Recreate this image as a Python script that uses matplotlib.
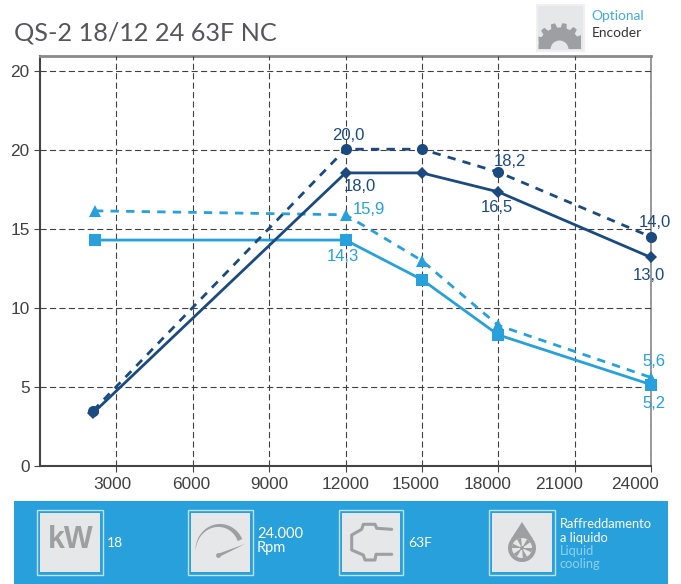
import numpy as np
import matplotlib
matplotlib.use("Agg")
import matplotlib.pyplot as plt
from matplotlib.patches import Rectangle, Circle, Wedge, Polygon
from matplotlib.transforms import ScaledTranslation

W, H = 681, 584
DARK = "#1b4a80"
LIGHT = "#27a0db"
ICON = "#9d9fa2"
BOX = "#e6e7e8"

# Data
rpm_dark = [2085, 12000, 15000, 18000, 24000]
rpm_light = [2160, 12000, 15000, 18000, 24000]
kw_peak = [3.5, 20.05, 20.05, 18.6, 14.5]
kw_cont = [3.35, 18.55, 18.55, 17.35, 13.2]
nm_peak = [16.15, 15.9, 13.0, 8.9, 5.6]
nm_cont = [14.3, 14.3, 11.8, 8.3, 5.15]

x_ticks = [3000, 6000, 9000, 12000, 15000, 18000, 21000, 24000]
y_ticks = [0, 5, 10, 15, 20, 25]
y_tick_labels = ["0", "5", "10", "15", "20", "20"]

# the x labels drift left of their ticks in the original
x_label_shift = [-4, -2, 0, 0, -6, -11, -16, -16]

plt.rcParams["font.family"] = ["Liberation Sans", "DejaVu Sans"]

fig = plt.figure(figsize=(W / 100, H / 100), dpi=100)

# Chart axes, placed by pixels
ax = fig.add_axes([40 / W, 1 - 466 / H, (651 - 40) / W, (466 - 56) / H])
ax.set_xlim(0, 24000)
ax.set_ylim(0, 410 / 15.8)
ax.set_xticks(x_ticks)
ax.set_yticks(y_ticks)
ax.set_yticklabels(y_tick_labels)
ax.tick_params(axis="both", labelsize=12.4, labelcolor="#404040", color="#444444", length=4.5, width=0.8, pad=3)
ax.tick_params(axis="x", pad=3.5)
ax.grid(True, color="#404040", linestyle=(0, (5.5, 3)), linewidth=0.8)
ax.set_axisbelow(True)
for side, col, lw in [("top", "#8a8a8c", 2), ("right", "#8a8a8c", 1.2),
                      ("left", "#444444", 1.5), ("bottom", "#444444", 1.5)]:
    ax.spines[side].set_color(col)
    ax.spines[side].set_linewidth(lw)
    ax.spines[side].set_zorder(0.4)

for tick_label, shift in zip(ax.get_xticklabels(), x_label_shift):
    tick_label.set_transform(tick_label.get_transform() + ScaledTranslation(shift / 100, 0, fig.dpi_scale_trans))

dash = (0, (3.0, 2.6))
ax.plot(rpm_light, nm_peak, color=LIGHT, lw=2, ls=dash, marker="^", ms=8.5, mew=0, clip_on=False, zorder=3)
ax.plot(rpm_light, nm_cont, color=LIGHT, lw=2, marker="s", ms=8, mew=0, clip_on=False, zorder=3)
ax.plot(rpm_dark, kw_peak, color=DARK, lw=2, ls=dash, marker="o", ms=8, mew=0, clip_on=False, zorder=4)
ax.plot(rpm_dark, kw_cont, color=DARK, lw=2, marker="D", ms=6.5, mew=0, clip_on=False, zorder=4)

# Value labels, offset from their points in pixels (y up)
def label(x, y, txt, color, dx, dy):
    ax.annotate(txt, (x, y), xytext=(dx * 0.72, dy * 0.72), textcoords="offset points",
                color=color, fontsize=12, ha="center", va="center", zorder=6, annotation_clip=False)

label(rpm_dark[1], kw_peak[1], "20,0", DARK, 3, 14)
label(rpm_dark[1], kw_cont[1], "18,0", DARK, 14, -14)
label(rpm_dark[3], kw_peak[3], "18,2", DARK, 12, 11)
label(rpm_dark[3], kw_cont[3], "16,5", DARK, -1, -16)
label(rpm_dark[4], kw_peak[4], "14,0", DARK, 4, 14)
label(rpm_dark[4], kw_cont[4], "13,0", DARK, -2, -18)
label(rpm_light[1], nm_peak[1], "15,9", LIGHT, 23, 5)
label(rpm_light[1], nm_cont[1], "14,3", LIGHT, -3, -16)
label(rpm_light[4], nm_peak[4], "5,6", LIGHT, 3, 16)
label(rpm_light[4], nm_cont[4], "5,2", LIGHT, 3, -19)

# Overlay in pixel coordinates for header, footer and icons
ui = fig.add_axes([0, 0, 1, 1], zorder=5)
ui.set_xlim(0, W)
ui.set_ylim(H, 0)
ui.axis("off")
ui.patch.set_alpha(0)

UI_FONT = ["Lato", "DejaVu Sans"]
ui.text(14, 33.5, "QS-2 18/12 24 63F NC", fontsize=18.2, color="#55555a", family=UI_FONT, va="center")
ui.text(591.5, 16, "Optional", fontsize=9.9, color="#45a9de", family=UI_FONT, va="center")
ui.text(591.5, 33, "Encoder", fontsize=9.9, color="#333333", family=UI_FONT, va="center")

# Encoder gear icon
ui.add_patch(Rectangle((536.5, 4.5), 47, 46, fc=BOX, ec="#f0f0f1", lw=1.5))
angles = np.linspace(np.pi, 2 * np.pi, 57)
radius = np.where(((angles - np.pi) / (np.pi / 7) + 0.25) % 1 < 0.5, 26, 21.5)
gear_x = np.clip(559.5 + radius * np.cos(angles), 538.5, 581)
gear_y = 49 + radius * np.sin(angles)
ui.add_patch(Polygon(np.column_stack([gear_x, gear_y]), fc=ICON, ec="none"))
ui.add_patch(Rectangle((539, 37), 42, 12, fc=ICON, ec="none"))
ui.add_patch(Wedge((559.5, 49.5), 9, 180, 360, fc=BOX, ec="none"))

# Footer band
ui.add_patch(Rectangle((14, 501), 654, 83, fc=LIGHT, ec="none"))

def icon_box(x0, x1):
    ui.add_patch(Rectangle((x0, 510), x1 - x0, 65, fc="none", ec="#bfe0f3", lw=1))
    ui.add_patch(Rectangle((x0 + 3, 513), x1 - x0 - 6, 59, fc=BOX, ec="none"))

icon_box(37, 103)
icon_box(188, 253)
icon_box(339, 403)
icon_box(489, 555)

# kW
ui.text(71, 540.5, "kW", fontsize=22, fontweight="bold", color=ICON, family="Liberation Sans", ha="center", va="center")

# Gauge: arc that gets thicker to the right
t = np.radians(np.linspace(182, 335, 60))
thick = np.linspace(0.3, 5, 60)
outer = np.column_stack([220 + 24.5 * np.cos(t), 550 + 26 * np.sin(t)])
inner = np.column_stack([220 + (24.5 - thick) * np.cos(t), 550 + (26 - thick) * np.sin(t)])
ui.add_patch(Polygon(np.vstack([outer, inner[::-1]]), fc=ICON, ec="none"))
ui.add_patch(Circle((218.5, 555.5), 2.4, fc=ICON, ec="none"))
ui.add_patch(Polygon([(218, 553.8), (245, 544), (219, 557)], fc=ICON, ec="none"))

# Motor flange outline
flange_x = [391.7, 376.7, 375, 363.3, 361.7, 351.7, 351.7, 363.3, 365, 375, 376, 391.7]
flange_y = [529.3, 528.3, 524.3, 524.3, 529.3, 535, 550, 555, 560, 560, 554.3, 554.3]
ui.plot(flange_x, flange_y, color=ICON, lw=2.2, solid_capstyle="round", solid_joinstyle="round")

# Liquid drop with fan
ui.add_patch(Polygon([(522, 522), (511, 539), (533, 539)], fc=ICON, ec="none"))
ui.add_patch(Circle((522, 548), 14, fc=ICON, ec="none"))
ui.add_patch(Circle((522, 548), 10, fc=BOX, ec="none"))
for a in np.arange(0, 360, 60):
    ui.add_patch(Wedge((522, 548), 10, a, a + 25, fc=ICON, ec="none"))
ui.add_patch(Circle((522, 548), 2, fc=ICON, ec="none"))

# Footer texts
ui.text(107, 543, "18", fontsize=10, color="white", family=UI_FONT, va="center")
ui.text(257, 534, "24.000", fontsize=10.5, color="white", family=UI_FONT, va="center")
ui.text(257, 548, "Rpm", fontsize=10.5, color="white", family=UI_FONT, va="center")
ui.text(408, 543, "63F", fontsize=10, color="white", family=UI_FONT, va="center")
ui.text(560, 524, "Raffreddamento", fontsize=9.3, color="white", family=UI_FONT, va="center")
ui.text(560, 538, "a liquido", fontsize=9.3, color="white", family=UI_FONT, va="center")
ui.text(560, 551, "Liquid", fontsize=9.3, color="#8fd0ef", family=UI_FONT, va="center")
ui.text(560, 564, "cooling", fontsize=9.3, color="#8fd0ef", family=UI_FONT, va="center")

fig.savefig("out.png", dpi=100)
